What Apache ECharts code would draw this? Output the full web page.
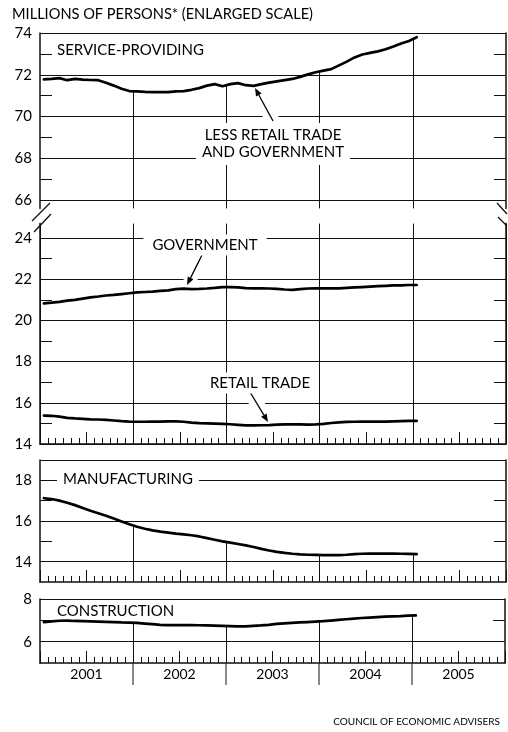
<!DOCTYPE html>
<html><head><meta charset="utf-8">
<script src="https://cdn.jsdelivr.net/npm/echarts@6/dist/echarts.min.js"></script>
<style>html,body{margin:0;padding:0;background:#fff}#c{width:508px;height:732px}</style>
</head><body><div id="c"></div>
<script>
// ---------------- data (millions of persons, monthly Jan 2001 – Jan 2005) ----------------
const years = ['2001', '2002', '2003', '2004', '2005'];
const yearBoundaries = [12, 24, 36, 48]; // months since Jan 2001

const serviceLessRetailGov = [
  71.78, 71.80, 71.84, 71.74, 71.80, 71.77, 71.75, 71.74, 71.62, 71.48, 71.33, 71.22,
  71.20, 71.18, 71.17, 71.17, 71.17, 71.20, 71.22, 71.28, 71.36, 71.48, 71.55, 71.45,
  71.55, 71.60, 71.50, 71.47, 71.55, 71.62, 71.68, 71.74, 71.80, 71.90, 72.02, 72.12,
  72.20, 72.27, 72.45, 72.63, 72.83, 72.97, 73.05, 73.12, 73.22, 73.35, 73.50, 73.62,
  73.80
];
const government = [
  20.83, 20.86, 20.90, 20.96, 21.00, 21.06, 21.12, 21.16, 21.21, 21.24, 21.28, 21.32,
  21.36, 21.38, 21.40, 21.43, 21.46, 21.52, 21.54, 21.52, 21.53, 21.55, 21.58, 21.62,
  21.62, 21.60, 21.57, 21.56, 21.56, 21.55, 21.53, 21.50, 21.48, 21.52, 21.55, 21.56,
  21.56, 21.56, 21.56, 21.58, 21.60, 21.62, 21.64, 21.66, 21.68, 21.70, 21.70, 21.72,
  21.72
];
const retailTrade = [
  15.38, 15.37, 15.33, 15.27, 15.24, 15.22, 15.20, 15.19, 15.17, 15.14, 15.11, 15.09,
  15.08, 15.08, 15.09, 15.09, 15.10, 15.10, 15.08, 15.04, 15.01, 15.00, 14.99, 14.98,
  14.96, 14.93, 14.90, 14.90, 14.91, 14.92, 14.94, 14.95, 14.96, 14.95, 14.94, 14.95,
  14.98, 15.02, 15.05, 15.07, 15.08, 15.09, 15.09, 15.09, 15.09, 15.10, 15.11, 15.12,
  15.12
];
const manufacturing = [
  17.12, 17.08, 17.00, 16.90, 16.78, 16.64, 16.50, 16.38, 16.26, 16.12, 15.98, 15.84,
  15.72, 15.62, 15.54, 15.48, 15.43, 15.38, 15.34, 15.30, 15.24, 15.16, 15.08, 15.00,
  14.94, 14.87, 14.80, 14.72, 14.63, 14.55, 14.48, 14.43, 14.39, 14.36, 14.34, 14.33,
  14.32, 14.32, 14.32, 14.34, 14.37, 14.39, 14.40, 14.40, 14.40, 14.40, 14.39, 14.38,
  14.37
];
const construction = [
  6.92, 6.95, 6.98, 6.99, 6.97, 6.96, 6.95, 6.94, 6.93, 6.92, 6.90, 6.89,
  6.88, 6.85, 6.82, 6.79, 6.78, 6.78, 6.78, 6.78, 6.77, 6.76, 6.75, 6.74,
  6.73, 6.72, 6.72, 6.74, 6.76, 6.79, 6.83, 6.86, 6.88, 6.90, 6.92, 6.94,
  6.96, 6.99, 7.02, 7.05, 7.08, 7.11, 7.13, 7.15, 7.17, 7.19, 7.20, 7.22,
  7.23
];

// tick values per panel
const serviceLabels = [66, 68, 70, 72, 74];
const serviceMinor = [67, 69, 71, 73];
const govRetailLabels = [14, 16, 18, 20, 22, 24];
const govRetailMinor = [15, 17, 19, 21, 23];
const mfgLabels = [14, 16, 18];
const mfgMinor = [15, 17];
const constrLabels = [6, 8];
const constrMinor = [7];

// ---------------- layout / style ----------------
const FONT = 'Lato';
const INK = '#111';
const grids = [
  { left: 40, width: 466, top: 33, height: 175.4 },   // service-providing (broken axis, upper part)
  { left: 40, width: 466, top: 223.6, height: 220.4 }, // government & retail
  { left: 40, width: 466, top: 460, height: 122 },     // manufacturing
  { left: 40, width: 466, top: 599, height: 64 }       // construction
];
const yRanges = [[65.6, 74], [14, 24.7], [13, 19], [5, 8]];
const yMajor = [serviceLabels, govRetailLabels, mfgLabels.concat([19]), constrLabels];
const yLabels = [serviceLabels, govRetailLabels, mfgLabels, constrLabels];
const yMinor = [serviceMinor, govRetailMinor, mfgMinor, constrMinor];

const yAxis = [];
grids.forEach((g, i) => {
  const [min, max] = yRanges[i];
  yAxis.push({
    type: 'value', gridIndex: i, min, max, position: 'left',
    axisLine: { show: true, lineStyle: { color: INK, width: 1.5 } },
    axisTick: { show: false, customValues: yMajor[i] },
    axisLabel: { customValues: yLabels[i], color: '#000', fontFamily: FONT, fontSize: 15, margin: 8 },
    splitLine: { show: true, lineStyle: { color: INK, width: 1 } }
  });
  yAxis.push({
    type: 'value', gridIndex: i, min, max, position: 'left',
    axisLine: { show: false },
    axisTick: { show: true, inside: true, length: 12, customValues: yMinor[i], lineStyle: { color: INK, width: 1 } },
    axisLabel: { show: false }, splitLine: { show: false }
  });
  yAxis.push({
    type: 'value', gridIndex: i, min, max, position: 'right',
    axisLine: { show: true, lineStyle: { color: INK, width: 1.5 } },
    axisTick: { show: true, inside: true, length: 12, customValues: yMinor[i], lineStyle: { color: INK, width: 1 } },
    axisLabel: { show: false }, splitLine: { show: false }
  });
});

const xOpts = [
  { line: false, ticks: false, split: false, labels: false },
  { line: true, ticks: true, split: true, labels: false },
  { line: true, ticks: true, split: false, labels: false },
  { line: true, ticks: true, split: false, labels: true }
];
const xAxis = [];
xOpts.forEach((o, i) => {
  xAxis.push({
    type: 'value', gridIndex: i, min: 0, max: 60, interval: 12, position: 'bottom', show: i !== 0,
    axisLine: { show: o.line, onZero: false, lineStyle: { color: INK, width: 1.5 } },
    axisTick: { show: false },
    axisLabel: { show: false },
    splitLine: { show: o.split, lineStyle: { color: INK, width: 1 } }
  });
  xAxis.push({
    type: 'value', gridIndex: i, min: 0, max: 60, interval: 6, position: 'bottom', show: i !== 0,
    axisLine: { show: false, onZero: false },
    axisTick: { show: o.ticks, inside: true, length: 12, lineStyle: { color: INK, width: 1 } },
    minorTick: { show: o.ticks, splitNumber: 6, length: 6, lineStyle: { color: INK, width: 1 } },
    axisLabel: o.labels
      ? { show: true, margin: 4, color: '#000', fontFamily: FONT, fontSize: 14,
          formatter: v => (v % 12 === 6 ? years[(v - 6) / 12] : '') }
      : { show: false },
    splitLine: { show: false }
  });
});

function lineSeries(name, data, gi, drop) {
  const s = {
    type: 'line', name, xAxisIndex: 2 * gi, yAxisIndex: 3 * gi,
    data: data.map((v, i) => [i + 0.5, v]),
    showSymbol: false, symbol: 'none', silent: true, z: 5,
    lineStyle: { color: '#000', width: 2.7, cap: 'round', join: 'round' }
  };
  if (drop) {
    const min = yRanges[gi][0];
    s.markLine = {
      silent: true, symbol: ['none', 'none'], label: { show: false }, animation: false,
      lineStyle: { color: INK, width: 1, type: 'solid' },
      emphasis: { disabled: true },
      data: yearBoundaries.map(b => [{ coord: [b, (data[b - 1] + data[b]) / 2] }, { coord: [b, min] }])
    };
  }
  return s;
}

// ---------------- annotations ----------------
function txt(text, x, y, opt) {
  return { type: 'text', x, y, z: 50, style: Object.assign({
    text, fill: '#000', font: `15px ${FONT}`, align: 'left', verticalAlign: 'middle' }, opt || {}) };
}
function arrow(x1, y1, x2, y2, haloFrac) {
  const a = Math.atan2(y2 - y1, x2 - x1), L = 8, W = 3.2;
  const bx = x2 - L * Math.cos(a), by = y2 - L * Math.sin(a);
  const px = -Math.sin(a) * W, py = Math.cos(a) * W;
  const hx0 = x1 - 6 * Math.cos(a), hy0 = y1 - 6 * Math.sin(a);
  return [
    { type: 'line', z: 40, shape: { x1: hx0, y1: hy0, x2: x1 + (x2 - x1) * haloFrac, y2: y1 + (y2 - y1) * haloFrac },
      style: { stroke: '#fff', lineWidth: 14 } },
    { type: 'line', z: 45, shape: { x1, y1, x2: bx, y2: by }, style: { stroke: '#000', lineWidth: 1.3 } },
    { type: 'polygon', z: 45, shape: { points: [[x2, y2], [bx + px, by + py], [bx - px, by - py]] }, style: { fill: '#000' } }
  ];
}
const slash = (x1, y1, x2, y2) => ({ type: 'line', z: 50, shape: { x1, y1, x2, y2 }, style: { stroke: INK, lineWidth: 1.3 } });

const graphic = [
  txt('MILLIONS OF PERSONS* (ENLARGED SCALE)', 12, 14, { font: `14.6px ${FONT}` }),
  txt('SERVICE-PROVIDING', 57, 50),
  txt('LESS RETAIL TRADE\nAND GOVERNMENT', 273, 144, { align: 'center', lineHeight: 17,
    backgroundColor: '#fff', padding: [4, 6] }),
  txt('GOVERNMENT', 205, 245, { align: 'center', backgroundColor: '#fff', padding: [3, 9] }),
  txt('RETAIL TRADE', 260, 383, { align: 'center', backgroundColor: '#fff', padding: [3, 4] }),
  txt('MANUFACTURING', 57, 479, { backgroundColor: '#fff', padding: [2, 6] }),
  txt('CONSTRUCTION', 57, 611),
  txt('COUNCIL OF ECONOMIC ADVISERS', 500, 722, { align: 'right', font: `10px ${FONT}` }),
  ...arrow(273, 121, 255, 88, 0.75),
  ...arrow(202, 255, 187, 285, 0.9),
  ...arrow(250, 392, 268, 422, 0.72),
  slash(32, 221, 50, 203), slash(34, 232, 51, 214),
  slash(497, 203, 507, 214), slash(498, 217, 507, 226)
];

const chart = echarts.init(document.getElementById('c'), null, { renderer: 'canvas' });
chart.setOption({
  animation: false,
  backgroundColor: '#fff',
  textStyle: { fontFamily: FONT },
  grid: grids,
  xAxis, yAxis,
  series: [
    lineSeries('Service-providing less retail trade and government', serviceLessRetailGov, 0, true),
    lineSeries('Government', government, 1, false),
    lineSeries('Retail trade', retailTrade, 1, false),
    lineSeries('Manufacturing', manufacturing, 2, true),
    lineSeries('Construction', construction, 3, true)
  ],
  graphic
});

// year separators below the bottom axis, positioned through the construction panel's scales
const axisY = chart.convertToPixel({ yAxisIndex: 9 }, yRanges[3][0]);
const separators = yearBoundaries.map(b => {
  const x = chart.convertToPixel({ xAxisIndex: 6 }, b);
  return { type: 'line', z: 50, shape: { x1: x, y1: axisY, x2: x, y2: axisY + 22 }, style: { stroke: INK, lineWidth: 1 } };
});
chart.setOption({ graphic: graphic.concat(separators) });
</script></body></html>
